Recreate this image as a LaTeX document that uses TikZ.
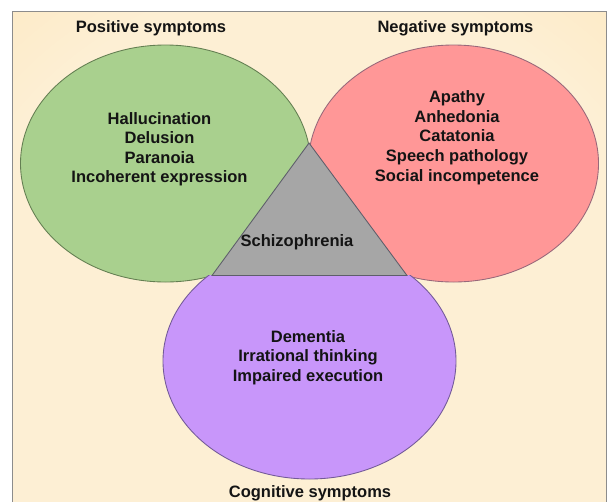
\documentclass[tikz,border=0pt]{standalone}
\usepackage{fontspec}
\setmainfont{Liberation Sans}
\definecolor{bgA}{HTML}{FDEFD4}
\definecolor{bgB}{HTML}{FCE4B3}
\definecolor{bgC}{HTML}{FEF4E0}
\definecolor{framegray}{HTML}{8C8C8C}
\definecolor{grn}{HTML}{A9D08E}
\definecolor{grnline}{HTML}{647F52}
\definecolor{rd}{HTML}{FF9797}
\definecolor{rdline}{HTML}{98687A}
\definecolor{prp}{HTML}{C896FA}
\definecolor{prpline}{HTML}{735A98}
\definecolor{tri}{HTML}{A6A6A6}
\definecolor{triline}{HTML}{5E5E6A}
\definecolor{txt}{HTML}{141414}
\pgfdeclareradialshading{bgglow}{\pgfpoint{0bp}{0bp}}{color(0bp)=(bgA); color(22bp)=(bgA); color(37bp)=(bgB); color(50bp)=(bgC)}
\begin{document}
\begin{tikzpicture}[x=0.75pt,y=-0.75pt,
  lbl/.style={font=\fontsize{12.375}{14.7}\selectfont\bfseries, text=txt, inner sep=0pt, align=center},
  edge/.style={line width=0.65pt}]
\clip (0,0) rectangle (611,501);
\fill[white] (0,0) rectangle (611,501);
\begin{scope}
  \clip (12.5,11) rectangle (606,520);
  \shade[shading=bgglow] (-100,-60) rectangle (720,710);
\end{scope}
\draw[framegray, line width=0.7pt] (12.5,11) rectangle (606,520);
% circles
\filldraw[fill=grn, draw=grnline, edge] (165.5,163.5) ellipse [x radius=145, y radius=118.5];
\filldraw[fill=rd, draw=rdline, edge] (453.5,163.5) ellipse [x radius=145, y radius=118.5];
\begin{scope}
  \clip (0,275.5) rectangle (611,520);
  \filldraw[fill=prp, draw=prpline, edge] (309.5,361) ellipse [x radius=146.5, y radius=118];
\end{scope}
% triangle
\coordinate (apex) at (309,143);
\coordinate (bl) at (212,275.5);
\coordinate (br) at (407,275.5);
\filldraw[fill=tri, draw=triline, edge, line join=miter] (apex) -- (bl) -- (br) -- cycle;
% texts
\node[lbl] (pos) at (151,28) {Positive symptoms};
\node[lbl] (neg) at (455.5,28) {Negative symptoms};
\node[lbl] (cog) at (310,493.3) {Cognitive symptoms};
\node[lbl] (poslist) at (159.5,149.2) {Hallucination\\Delusion\\Paranoia\\Incoherent expression};
\node[lbl] (neglist) at (457,137.6) {Apathy\\Anhedonia\\Catatonia\\Speech pathology\\Social incompetence};
\node[lbl] (coglist) at (308,357.6) {Dementia\\Irrational thinking\\Impaired execution};
\node[lbl] (schizo) at (297,242.5) {Schizophrenia};
\end{tikzpicture}
\end{document}
